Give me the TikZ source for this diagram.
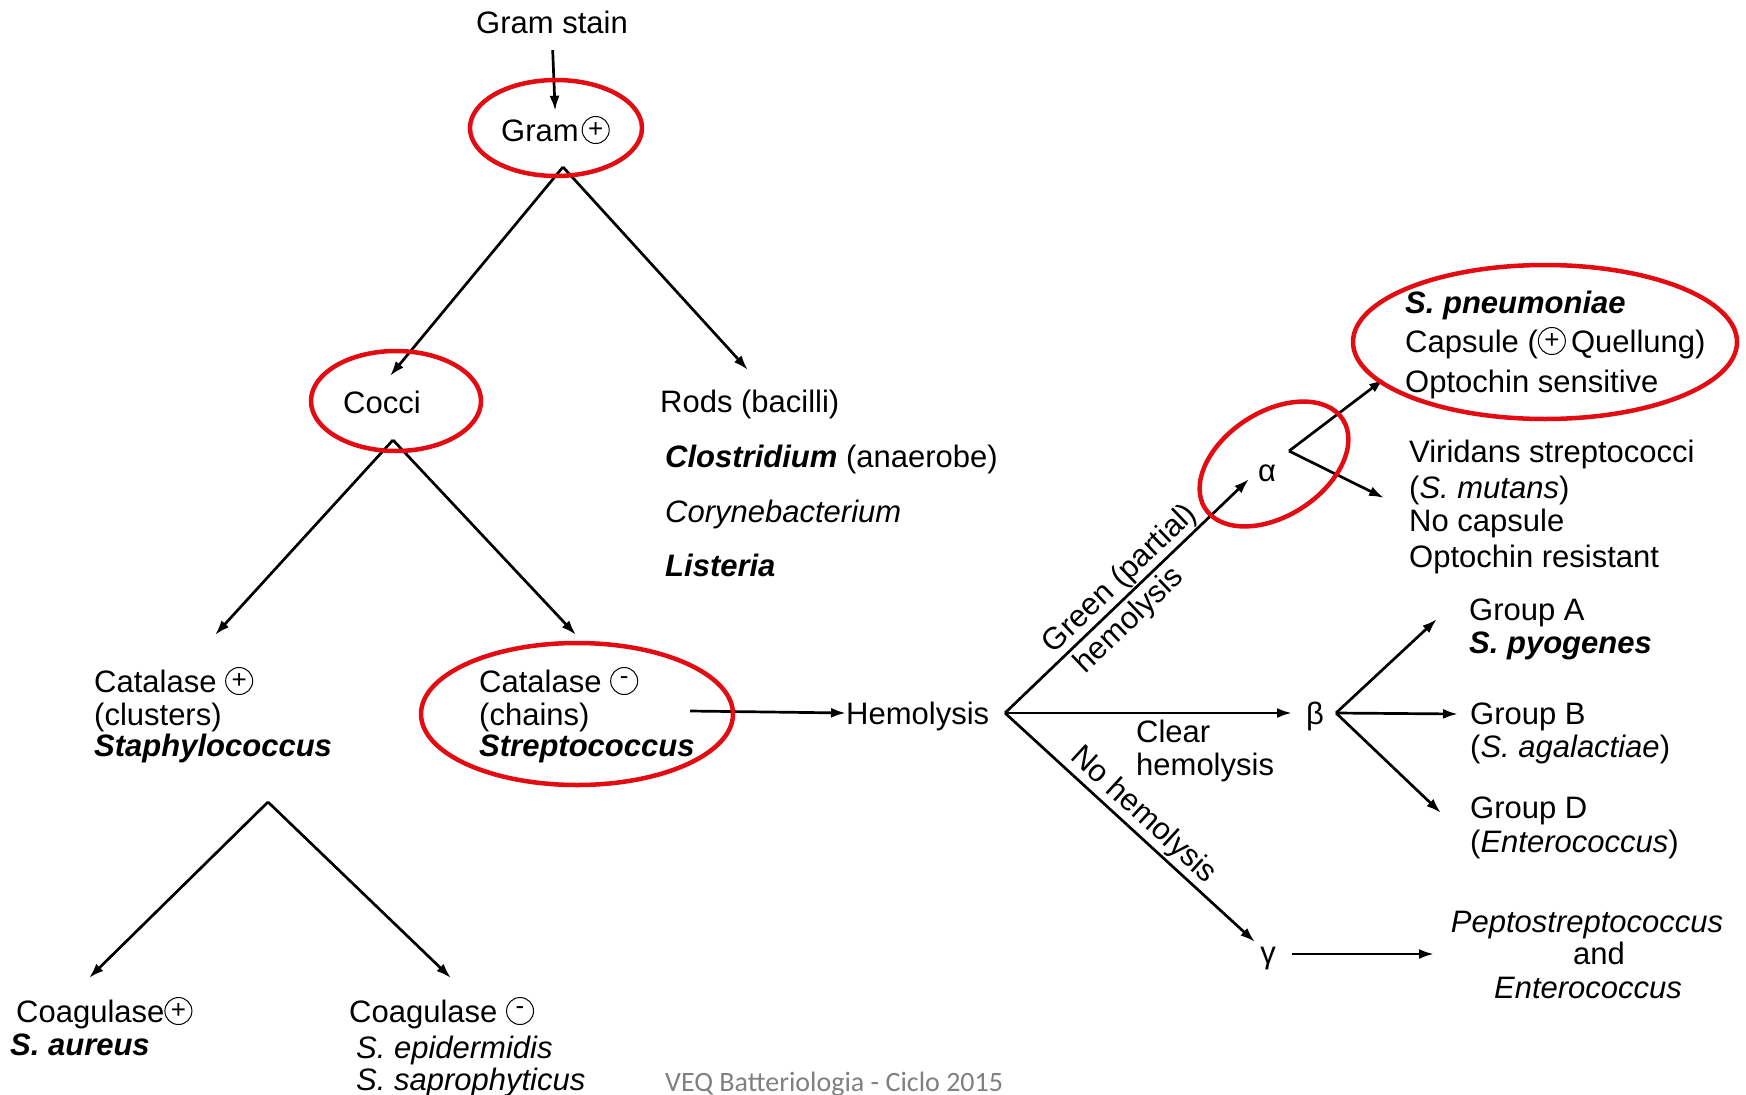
\documentclass[tikz,border=0pt]{standalone}
\usepackage{fontspec}
\setmainfont{Liberation Sans}
\newfontfamily\calib{Carlito}
\usetikzlibrary{arrows.meta}
\definecolor{ered}{RGB}{226,12,18}
\newcommand\csign[1]{\tikz[baseline={([yshift=-11pt]cs.center)}]\node[circle,draw,line width=1pt,inner sep=0pt,minimum size=27pt](cs){\fontsize{26}{26}\selectfont #1};}
\begin{document}
\begin{tikzpicture}[x=1pt,y=-1pt,
 txt/.style={inner sep=0pt,anchor=west,text height=22pt,text depth=0pt,font=\fontsize{31}{34}\selectfont},
 ctxt/.style={txt,anchor=center},
 lab/.style={font=\fontsize{31}{34}\selectfont,sloped},
 arr/.style={line width=2.7pt,-{Latex[length=15pt,width=10pt]}},
 ring/.style={draw=ered,line width=4.5pt}]
\useasboundingbox[fill=white] (0,0) rectangle (1746,1095);

% texts
\node[ctxt] (stain) at (552,22) {Gram stain};
\node[txt] (gram) at (501,130) {Gram\hspace{3pt}\csign{+}};
\node[txt] (cocci) at (343,402) {Cocci};
\node[txt] (rods) at (660,401) {Rods (bacilli)};
\node[txt] (clos) at (665,456) {\textbf{\textit{Clostridium}} (anaerobe)};
\node[txt] (cory) at (665,511) {\textit{Corynebacterium}};
\node[txt] (list) at (665,565) {\textbf{\textit{Listeria}}};
\node[txt] (catp) at (94,681) {Catalase \csign{+}};
\node[txt] (clus) at (94,714) {(clusters)};
\node[txt] (staph) at (94,745) {\textbf{\textit{Staphylococcus}}};
\node[txt] (catm) at (479,681) {Catalase \csign{-}};
\node[txt] (chains) at (479,714) {(chains)};
\node[txt] (strep) at (479,745) {\textbf{\textit{Streptococcus}}};
\node[txt] (hemo) at (846,713) {Hemolysis};
\node[ctxt] (alpha) at (1267,470) {α};
\node[txt] (pneu) at (1405,302) {\textbf{\textit{S. pneumoniae}}};
\node[txt] (caps) at (1405,341) {Capsule (\csign{+}\,Quellung)};
\node[txt] (optos) at (1405,381) {Optochin sensitive};
\node[txt] (virid) at (1409,451) {Viridans streptococci};
\node[txt] (mutans) at (1409,487) {(\textit{S. mutans})};
\node[txt] (nocaps) at (1409,520) {No capsule};
\node[txt] (optor) at (1409,556) {Optochin resistant};
\node[ctxt] (beta) at (1315,713) {β};
\node[txt] (ga) at (1469,609) {Group A};
\node[txt] (pyo) at (1469,642) {\textbf{\textit{S. pyogenes}}};
\node[txt] (gb) at (1470,713) {Group B};
\node[txt] (agal) at (1470,746) {(\textit{S. agalactiae})};
\node[txt] (gd) at (1470,807) {Group D};
\node[txt] (ent) at (1470,841) {(\textit{Enterococcus})};
\node[ctxt] (gamma) at (1268,952) {γ};
\node[ctxt] (pepto) at (1587,921) {\textit{Peptostreptococcus}};
\node[ctxt] (and) at (1599,953) {and};
\node[ctxt] (ent2) at (1588,987) {\textit{Enterococcus}};
\node[txt] (clear) at (1136,731) {Clear};
\node[txt] (clearh) at (1136,764) {hemolysis};
\node[txt] (coagp) at (16,1011) {Coagulase\csign{+}};
\node[txt] (aureus) at (10,1044) {\textbf{\textit{S. aureus}}};
\node[txt] (coagm) at (349,1011) {Coagulase \csign{-}};
\node[txt] (epi) at (356,1047) {\textit{S. epidermidis}};
\node[txt] (sapro) at (356,1079) {\textit{S. saprophyticus}};
\node[txt,font=\calib\fontsize{28}{30}\selectfont,text=gray] (veq) at (665,1080) {VEQ Batteriologia - Ciclo 2015};

% coordinates
\coordinate (gA) at (563,167);
\coordinate (cocciTip) at (390,376);
\coordinate (rodsTip) at (748,370);
\coordinate (cA) at (393,440);
\coordinate (catpTip) at (215,635);
\coordinate (catmTip) at (576,635);
\coordinate (sA) at (268,802);
\coordinate (coagpTip) at (89,978);
\coordinate (coagmTip) at (451,978);
\coordinate (sTail) at (690,711);
\coordinate (hA) at (1005,713);
\coordinate (aTip) at (1249,479);
\coordinate (bTip) at (1292,713);
\coordinate (gTip) at (1255,942);
\coordinate (aA) at (1289,451);
\coordinate (pneuTip) at (1384,379);
\coordinate (viridTip) at (1384,498);
\coordinate (bA) at (1336,713);
\coordinate (gaTip) at (1437,619);
\coordinate (gbTip) at (1458,714);
\coordinate (gdTip) at (1441,813);
\coordinate (gTail) at (1292,954);
\coordinate (peptoTip) at (1434,954);

% connectors
\draw[arr,shorten <=17pt,shorten >=8pt] (stain.south) -- (gram.north);
\draw[arr] (gA) -- (cocciTip);
\draw[arr] (gA) -- (rodsTip);
\draw[arr] (cA) -- (catpTip);
\draw[arr] (cA) -- (catmTip);
\draw[arr] (sA) -- (coagpTip);
\draw[arr] (sA) -- (coagmTip);
\draw[arr] (sTail) -- (hemo.west);
\draw[arr] (hA) -- node[lab,above,pos=0.52,inner sep=1pt]{Green (partial)}
                   node[lab,below,pos=0.455,inner sep=4pt]{hemolysis} (aTip);
\draw[arr] (hA) -- (bTip);
\draw[arr] (hA) -- node[lab,above,pos=0.505,inner sep=2pt]{No hemolysis} (gTip);
\draw[arr] (aA) -- (pneuTip);
\draw[arr] (aA) -- (viridTip);
\draw[arr] (bA) -- (gaTip);
\draw[arr] (bA) -- (gbTip);
\draw[arr] (bA) -- (gdTip);
\draw[arr] (gTail) -- (peptoTip);

% red rings
\draw[ring] (556,128) ellipse (86 and 48);
\draw[ring] (396,401) ellipse (85 and 50);
\draw[ring] (577,714) ellipse (156 and 71);
\draw[ring,rotate around={33:(1274,464)}] (1274,464) ellipse (82 and 52);
\draw[ring] (1545,342) ellipse (192 and 77);
\end{tikzpicture}
\end{document}
